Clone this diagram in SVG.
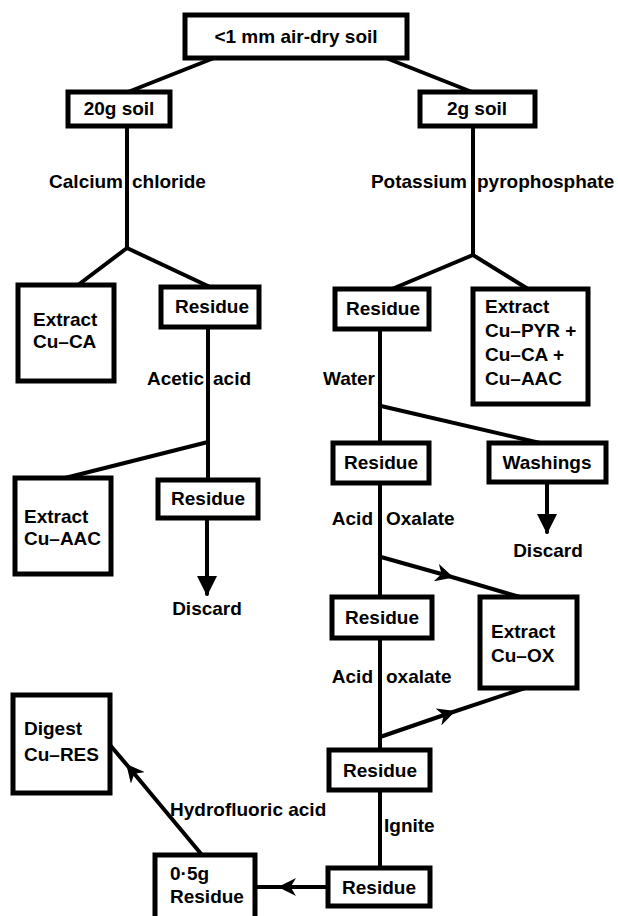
<svg xmlns="http://www.w3.org/2000/svg" width="618" height="916" viewBox="0 0 618 916">
<style>
.box{fill:#fff;stroke:#000;stroke-width:5}
.t{font-family:"Liberation Sans",Arial,sans-serif;font-weight:bold;font-size:19px;fill:#000}
.c{text-anchor:middle}
.e{text-anchor:end}
.ln{stroke:#000;stroke-width:4;fill:none;stroke-linecap:round}
</style>
<defs>
<marker id="ah" viewBox="0 0 10 10" refX="5" refY="5" markerWidth="4.5" markerHeight="4.5" orient="auto" markerUnits="strokeWidth">
<path d="M0,0 L10,5 L0,10 L3,5 Z" fill="#000"/>
</marker>
<marker id="tip" viewBox="0 0 10 10" refX="9" refY="5" markerWidth="5" markerHeight="5" orient="auto" markerUnits="strokeWidth">
<path d="M0,0 L10,5 L0,10 Z" fill="#000"/>
</marker>
</defs>
<rect width="618" height="916" fill="#fff"/>
<g id="connectors">
<path class="ln" d="M214,58 L128,92"/>
<path class="ln" d="M386,58 L472,92"/>
<path class="ln" d="M127,126 L127,248"/>
<path class="ln" d="M78,285 L127,248 L210,287"/>
<path class="ln" d="M473,126 L473,255"/>
<path class="ln" d="M392,289 L473,255 L528,289"/>
<path class="ln" d="M208,327 L208,480"/>
<path class="ln" d="M208,442 L65,478"/>
<path class="ln" d="M207,518 L207,594" marker-end="url(#tip)"/>
<path class="ln" d="M380,329 L380,443"/>
<path class="ln" d="M381,406 L540,443"/>
<path class="ln" d="M547,482 L547,532" marker-end="url(#tip)"/>
<path class="ln" d="M380,483 L380,597"/>
<path class="ln" d="M381,557 L445,575 L520,597" marker-mid="url(#ah)"/>
<path class="ln" d="M380,638 L380,750"/>
<path class="ln" d="M380,737 L447,714 L525,688" marker-mid="url(#ah)"/>
<path class="ln" d="M380,790 L380,868"/>
<path class="ln" d="M328,887 L287,887 L255,887" marker-mid="url(#ah)"/>
<path class="ln" d="M202,855 L132,771 L110,745" marker-mid="url(#ah)"/>
</g>
<g id="labels">
<text class="t e" x="123" y="188">Calcium</text>
<text class="t" x="132" y="188">chloride</text>
<text class="t e" x="467" y="188">Potassium</text>
<text class="t" x="477" y="188">pyrophosphate</text>
<text class="t e" x="204" y="385">Acetic</text>
<text class="t" x="213" y="385">acid</text>
<text class="t e" x="375" y="385">Water</text>
<text class="t e" x="373" y="525">Acid</text>
<text class="t" x="386" y="525">Oxalate</text>
<text class="t c" x="548" y="557">Discard</text>
<text class="t c" x="207" y="615">Discard</text>
<text class="t e" x="373" y="683">Acid</text>
<text class="t" x="386" y="683">oxalate</text>
<text class="t" x="170" y="816">Hydrofluoric acid</text>
<text class="t" x="384" y="832">Ignite</text>
</g>
<g id="n-top"><rect class="box" x="185" y="15" width="222" height="43"/><text class="t c" x="296" y="43">&lt;1 mm air-dry soil</text></g>
<g id="n-20g"><rect class="box" x="68" y="92" width="102" height="34"/><text class="t c" x="119" y="115">20g soil</text></g>
<g id="n-2g"><rect class="box" x="420" y="92" width="115" height="34"/><text class="t c" x="477" y="115">2g soil</text></g>
<g id="n-exCA"><rect class="box" x="18" y="285" width="96" height="96"/><text class="t" x="33" y="326">Extract</text><text class="t" x="33" y="348">Cu–CA</text></g>
<g id="n-resL1"><rect class="box" x="161" y="287" width="98" height="40"/><text class="t c" x="212" y="313">Residue</text></g>
<g id="n-exAAC"><rect class="box" x="15" y="478" width="96" height="96"/><text class="t" x="24" y="523">Extract</text><text class="t" x="24" y="545">Cu–AAC</text></g>
<g id="n-resL2"><rect class="box" x="158" y="480" width="100" height="38"/><text class="t c" x="208" y="505">Residue</text></g>
<g id="n-resR1"><rect class="box" x="335" y="289" width="94" height="40"/><text class="t c" x="383" y="315">Residue</text></g>
<g id="n-exPYR"><rect class="box" x="473" y="289" width="115" height="115"/><text class="t" x="485" y="313">Extract</text><text class="t" x="485" y="337">Cu–PYR +</text><text class="t" x="485" y="361">Cu–CA +</text><text class="t" x="485" y="385">Cu–AAC</text></g>
<g id="n-resR2"><rect class="box" x="333" y="443" width="96" height="40"/><text class="t c" x="381" y="469">Residue</text></g>
<g id="n-wash"><rect class="box" x="489" y="443" width="117" height="39"/><text class="t c" x="547" y="469">Washings</text></g>
<g id="n-resR3"><rect class="box" x="332" y="597" width="100" height="41"/><text class="t c" x="382" y="624">Residue</text></g>
<g id="n-exOX"><rect class="box" x="480" y="597" width="97" height="91"/><text class="t" x="491" y="638">Extract</text><text class="t" x="491" y="662">Cu–OX</text></g>
<g id="n-resR4"><rect class="box" x="329" y="750" width="101" height="40"/><text class="t c" x="380" y="777">Residue</text></g>
<g id="n-resR5"><rect class="box" x="328" y="868" width="102" height="38"/><text class="t c" x="379" y="894">Residue</text></g>
<g id="n-res05"><rect class="box" x="155" y="855" width="100" height="65"/><text class="t" x="170" y="880">0·5g</text><text class="t" x="170" y="903">Residue</text></g>
<g id="n-digest"><rect class="box" x="13" y="695" width="97" height="98"/><text class="t" x="24" y="735">Digest</text><text class="t" x="24" y="761">Cu–RES</text></g>
</svg>
